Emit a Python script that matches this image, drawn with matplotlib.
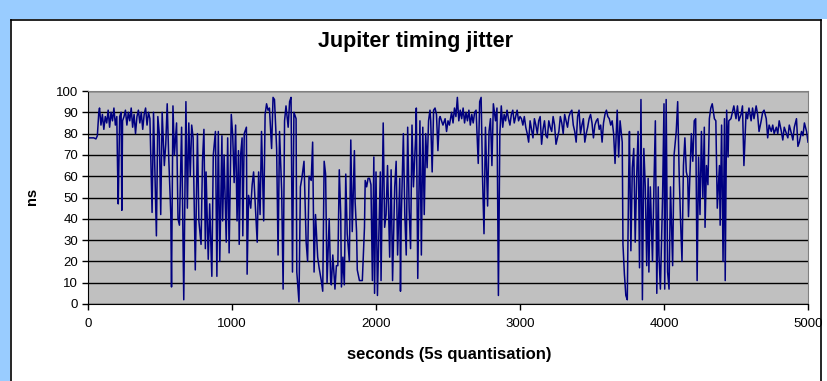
import matplotlib.pyplot as plt
from matplotlib.patches import Rectangle
from matplotlib.lines import Line2D

plt.rcParams['font.family'] = ['Liberation Sans', 'DejaVu Sans']

# jitter samples (time in s, jitter in ns)
seconds = [
    0, 20, 40, 55, 65, 75, 80, 90, 100, 110, 120, 130, 140, 150, 160, 170, 180, 190, 200,
    205, 210, 220, 230, 235, 240,
    250, 260, 270, 280, 290, 300, 310, 320, 330, 340, 350, 360, 370, 380, 390, 400, 410, 420, 430,
    445, 455, 475, 485, 495, 505, 515, 530, 540, 550, 560, 575, 580, 590, 600, 615, 625, 635, 650,
    665, 680, 690, 700, 710, 720, 730, 745, 760, 770, 785, 795, 805, 815, 820, 835, 845,
    860, 870, 885, 895, 905, 915, 930, 935, 945, 960, 970, 980, 995, 1005, 1015, 1025, 1035, 1045,
    1050, 1060, 1070, 1075, 1085, 1100, 1105, 1115, 1130, 1140, 1150, 1165, 1175, 1185, 1195, 1205,
    1220, 1230, 1240, 1250, 1260, 1275, 1285, 1295, 1310, 1320, 1330, 1345, 1355, 1365, 1375, 1390,
    1400, 1410, 1420, 1430, 1445, 1450, 1465, 1475, 1485, 1500, 1515, 1525, 1535, 1550, 1560, 1570,
    1580, 1595, 1605, 1620, 1630, 1640, 1650, 1660, 1675, 1685,
    1690, 1700, 1715, 1725, 1735, 1745, 1755, 1760, 1770, 1780, 1790, 1800, 1815, 1825, 1835, 1850,
    1855, 1865, 1870, 1885, 1895, 1905, 1920, 1925, 1935, 1945, 1955, 1965, 1975, 1985, 1990, 2000,
    2010, 2020, 2030, 2035, 2050, 2060, 2070, 2080, 2095, 2105, 2115, 2130, 2140, 2150, 2165, 2170,
    2175, 2190, 2200, 2210, 2220, 2230, 2240, 2250, 2260, 2275, 2280, 2290, 2305, 2315, 2325, 2335,
    2345, 2355, 2365, 2375, 2380, 2390, 2400, 2410, 2420, 2430, 2440, 2445, 2455, 2465, 2480, 2490,
    2500, 2510,
    2525, 2535, 2545, 2555, 2565, 2575, 2585, 2595, 2605, 2615, 2625, 2635, 2645, 2655, 2665, 2675,
    2685, 2695, 2710, 2720, 2730, 2740, 2750, 2760, 2775, 2785, 2795, 2805, 2815, 2830, 2840, 2850,
    2860, 2870,
    2880, 2890, 2900, 2910, 2920, 2930, 2940, 2950, 2960, 2970, 2980, 2990, 3000, 3010, 3020, 3030,
    3040, 3050, 3060, 3070, 3080, 3090, 3100, 3110, 3120, 3130, 3140, 3150, 3160, 3170, 3180, 3190,
    3200, 3210, 3220, 3230, 3240, 3250, 3260, 3270, 3280, 3290, 3300, 3310, 3320, 3330, 3340, 3350,
    3360, 3370, 3380, 3390, 3400, 3410, 3420, 3430, 3440, 3450, 3460, 3470, 3480, 3490, 3500, 3510,
    3520, 3530, 3540, 3550, 3560, 3570, 3580, 3590, 3600, 3610, 3620, 3630, 3640,
    3650, 3660, 3675, 3685, 3695, 3710, 3715, 3725, 3735, 3745, 3755, 3760, 3770, 3780, 3790, 3800,
    3810, 3820, 3830, 3840, 3850, 3860, 3870, 3880, 3890, 3895, 3905, 3920, 3930, 3940, 3950, 3960,
    3965, 3975, 3990, 4000, 4005, 4015, 4025, 4035, 4045, 4060, 4070, 4085, 4095, 4105, 4115, 4125,
    4135, 4145, 4155, 4165,
    4170, 4180, 4190, 4200, 4210, 4220, 4230, 4240, 4250, 4260, 4270, 4280, 4285, 4295, 4305, 4315,
    4325, 4335, 4350, 4360, 4370, 4385, 4390, 4400, 4410, 4420, 4425, 4435, 4445, 4450,
    4465, 4475, 4485, 4500, 4510, 4520, 4535, 4545, 4555, 4570, 4580, 4590, 4605, 4615, 4625, 4640,
    4650, 4660, 4675, 4685, 4695, 4710, 4720, 4730, 4745, 4755, 4765, 4780, 4790, 4800, 4815, 4825,
    4835, 4850, 4860, 4870, 4885, 4895, 4905, 4920, 4930, 4940, 4955, 4965, 4975, 4990, 5000,
]
jitter_ns = [
    78, 78, 78, 77.5, 79, 90, 92, 84, 89, 82, 88, 85, 91, 83, 90, 86, 92, 84, 88,
    65, 47, 88, 90, 44, 86,
    88, 91, 84, 90, 86, 92, 83, 89, 80, 88, 91, 85, 90, 82, 89, 92, 84, 90, 87,
    43, 90, 32, 88, 80, 42, 90, 65, 75, 94, 70, 42, 8, 93, 70, 85, 40, 37, 83,
    2, 95, 45, 85, 60, 84, 78, 16, 80, 39, 28, 67, 82, 26, 62, 21, 47,
    13, 70, 81, 13, 81, 20, 79, 39, 70, 29, 78, 24, 89, 79, 57, 84, 39, 72,
    28, 70, 78, 32, 80, 83, 14, 51, 45, 56, 62, 42, 29, 62, 42, 81,
    39, 89, 94, 91, 92, 73, 97, 96, 73, 23, 81, 53, 7, 86, 93, 83,
    95, 97, 15, 90, 87, 15, 1, 55, 59, 67, 29, 20, 60, 58, 76, 15,
    42, 22, 17, 11, 6, 67, 61, 10, 40, 11,
    9, 23, 7, 18, 18, 63, 42, 8, 22, 9, 61, 33, 20, 77, 34, 72,
    48, 34, 16, 11, 11, 11, 36, 58, 55, 59, 59, 56, 11, 69, 5, 62,
    4, 34, 62, 11, 85, 36, 42, 65, 22, 63, 11, 55, 67, 23, 59, 6,
    39, 80, 42, 23, 83, 45, 26, 84, 55, 78, 92, 12, 86, 23, 83, 42,
    80, 64, 86, 91, 86, 62, 91, 92, 89, 72, 87, 88, 86, 84, 87, 81,
    86, 84,
    90, 85, 92, 88, 97, 86, 91, 87, 92, 85, 90, 86, 91, 84, 89, 85,
    90, 91, 66, 95, 97, 59, 33, 83, 46, 81, 87, 65, 94, 86, 92, 4,
    80, 93,
    83, 89, 86, 91, 87, 84, 89, 91, 85, 88, 91, 86, 88, 87, 84, 88,
    83, 80, 76, 86, 82, 78, 87, 84, 80, 86, 88, 75, 82, 86, 79, 78,
    86, 83, 81, 88, 84, 75, 78, 81, 88, 85, 80, 89, 86, 83, 88, 90,
    91, 84, 81, 76, 88, 91, 80, 84, 87, 76, 80, 83, 87, 89, 85, 78,
    84, 86, 87, 82, 84, 76, 85, 89, 91, 88, 87, 84, 86,
    80, 66, 91, 69, 86, 76, 28, 14, 4, 2, 61, 81, 25, 64, 73, 29,
    59, 81, 17, 96, 2, 73, 55, 18, 59, 15, 55, 20, 55, 86, 5, 55,
    23, 7, 50, 94, 7, 96, 15, 7, 55, 18, 70, 81, 95, 62, 39, 20,
    65, 78, 62, 59,
    41, 61, 80, 67, 86, 87, 11, 69, 42, 81, 50, 83, 36, 65, 56, 87,
    92, 94, 87, 86, 45, 65, 37, 84, 20, 87, 11, 91, 69, 86,
    87, 90, 93, 87, 93, 86, 89, 93, 65, 90, 87, 92, 86, 92, 87, 93,
    89, 81, 86, 90, 91, 87, 78, 84, 81, 84, 80, 83, 80, 86, 81, 77,
    83, 80, 78, 84, 80, 77, 83, 87, 74, 76, 81, 79, 85, 81, 76,
]

y_ticks = list(range(0, 101, 10))
x_ticks = list(range(0, 5001, 1000))

fig = plt.figure(figsize=(8.27, 3.81), dpi=100)
fig.patch.set_facecolor('white')

# light blue selection frame and black chart border (top/left, like the screenshot)
blue = '#99CCFF'
fig.patches.append(Rectangle((0, 0), 10 / 827, 1, transform=fig.transFigure,
                             facecolor=blue, edgecolor='none'))
fig.patches.append(Rectangle((0, 1 - 19 / 381), 1, 19 / 381, transform=fig.transFigure,
                             facecolor=blue, edgecolor='none'))
bx0, bx1, by1 = 11 / 827, 821 / 827, 1 - 20 / 381
fig.lines.append(Line2D([bx0, bx0], [0, by1], transform=fig.transFigure, color='black', lw=1.2))
fig.lines.append(Line2D([bx0, bx1], [by1, by1], transform=fig.transFigure, color='black', lw=1.2))
fig.lines.append(Line2D([bx1, bx1], [0, by1], transform=fig.transFigure, color='black', lw=1.2))

ax = fig.add_axes([88 / 827, 1 - 304 / 381, 720 / 827, 213 / 381])
ax.set_facecolor('#C0C0C0')
ax.plot(seconds, jitter_ns, color='#000080', lw=1.1)

ax.set_xlim(0, 5000)
ax.set_ylim(0, 100)
ax.set_xticks(x_ticks)
ax.set_yticks(y_ticks)
ax.tick_params(labelsize=9.5, length=4, width=1, direction='out', color='black', pad=3)
ax.tick_params(axis='x', pad=6)
ax.yaxis.grid(True, color='black', lw=1)
ax.set_axisbelow(True)
for side in ['top', 'right']:
    ax.spines[side].set_color('#808080')
for side in ['left', 'bottom']:
    ax.spines[side].set_color('black')

fig.text(0.503, 1 - 42 / 381, 'Jupiter timing jitter', ha='center', va='center',
         fontsize=15.5, fontweight='bold')
fig.text(449 / 827, 1 - 354 / 381, 'seconds (5s quantisation)', ha='center', va='center',
         fontsize=12, fontweight='bold')
fig.text(32 / 827, 1 - 196 / 381, 'ns', ha='center', va='center', rotation=90,
         fontsize=10.5, fontweight='bold')

fig.savefig('out.png', dpi=100)
